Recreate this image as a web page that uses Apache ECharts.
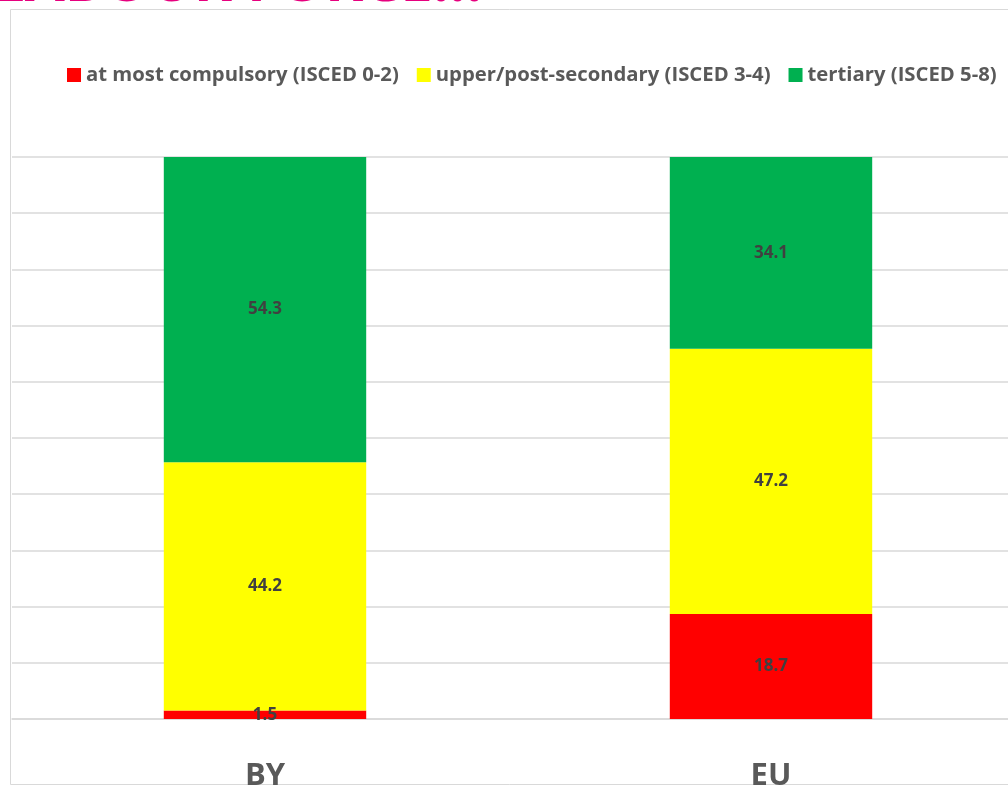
<!DOCTYPE html>
<html>
<head>
<meta charset="utf-8">
<script src="https://cdn.jsdelivr.net/npm/echarts@6/dist/echarts.min.js"></script>
<style>
  html, body { margin: 0; padding: 0; background: #fff; }
  #chart { width: 1008px; height: 786px; }
</style>
</head>
<body>
<div id="chart"></div>
<script>
  // values
  const categories = ['BY', 'EU'];
  const compulsory = [1.5, 18.7];
  const upperSecondary = [44.2, 47.2];
  const tertiary = [54.3, 34.1];
  const seriesNames = [
    'at most compulsory (ISCED 0-2)',
    'upper/post-secondary (ISCED 3-4)',
    'tertiary (ISCED 5-8)'
  ];
  const colors = ['#ff0000', '#ffff00', '#00b050'];

  const chart = echarts.init(document.getElementById('chart'));

  const labelStyle = {
    show: true,
    position: 'inside',
    fontFamily: 'Open Sans',
    fontWeight: 'bold',
    fontSize: 17,
    color: '#404040'
  };

  const makeSeries = (name, data, color) => ({
    name: name,
    type: 'bar',
    stack: 'total',
    barWidth: '40%',
    data: data,
    itemStyle: { color: color },
    label: labelStyle
  });

  const option = {
    animation: false,
    textStyle: { fontFamily: 'Open Sans' },
    graphic: [
      {
        type: 'rect',
        shape: { x: 10.5, y: 9.5, width: 1010, height: 775 },
        style: { fill: 'none', stroke: '#d9d9d9', lineWidth: 1 },
        z: -1
      },
      {
        type: 'text',
        left: -8,
        top: -45,
        style: {
          text: 'LABOUR FORCE...',
          fontFamily: 'Open Sans',
          fontWeight: 'bold',
          fontSize: 58,
          fill: '#e6007e'
        }
      }
    ],
    legend: {
      left: 62,
      top: 60,
      itemWidth: 14,
      itemHeight: 14,
      itemGap: 18,
      icon: 'rect',
      textStyle: {
        fontFamily: 'Open Sans',
        fontWeight: 'bold',
        fontSize: 20.3,
        color: '#595959'
      },
      data: seriesNames
    },
    grid: {
      outerBoundsMode: 'none',
      containLabel: false,
      left: 12,
      top: 157,
      width: 1012,
      height: 562
    },
    xAxis: {
      type: 'category',
      data: categories,
      axisLine: { lineStyle: { color: '#d9d9d9', width: 1.5 } },
      axisTick: { show: false },
      axisLabel: {
        margin: 42,
        fontFamily: 'Open Sans',
        fontWeight: 'bold',
        fontSize: 31,
        color: '#595959'
      }
    },
    yAxis: {
      type: 'value',
      min: 0,
      max: 100,
      interval: 10,
      axisLabel: { show: false },
      axisLine: { show: false },
      axisTick: { show: false },
      splitLine: { lineStyle: { color: '#d9d9d9', width: 1.5 } }
    },
    series: [
      makeSeries(seriesNames[0], compulsory, colors[0]),
      makeSeries(seriesNames[1], upperSecondary, colors[1]),
      makeSeries(seriesNames[2], tertiary, colors[2])
    ]
  };

  chart.setOption(option);
</script>
</body>
</html>
